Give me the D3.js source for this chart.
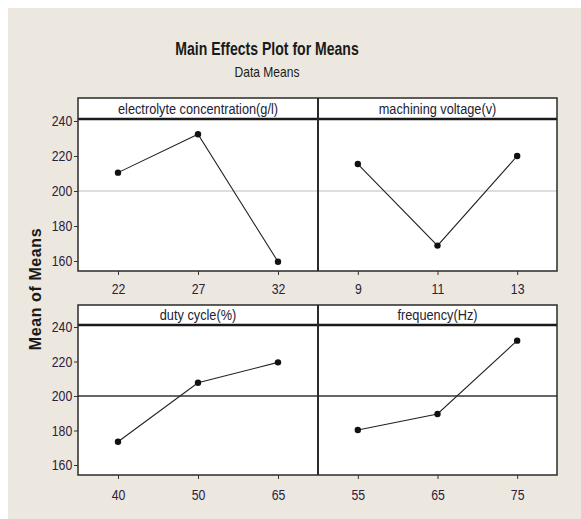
<!DOCTYPE html>
<html>
<head>
<meta charset="utf-8">
<script src="https://cdn.jsdelivr.net/npm/d3@7"></script>
<style>
  body { margin: 0; background: #ffffff; }
  text { font-family: "Liberation Sans", Arial, sans-serif; }
</style>
</head>
<body>
<div id="chart"></div>
<script>
// factor names and level labels
const factors = ["electrolyte concentration(g/l)", "machining voltage(v)", "duty cycle(%)", "frequency(Hz)"];
const levels = [["22", "27", "32"], ["9", "11", "13"], ["40", "50", "65"], ["55", "65", "75"]];
// mean of means at each level
const electrolyteMeans = [210.5, 232.4, 159.6];
const voltageMeans = [215.4, 168.8, 220.0];
const dutyMeans = [173.5, 207.7, 219.5];
const frequencyMeans = [180.3, 189.6, 232.1];
const seriesMeans = [electrolyteMeans, voltageMeans, dutyMeans, frequencyMeans];
const yTicks = [160, 180, 200, 220, 240];
const grandMean = 200;

const W = 581, H = 519;

const svg = d3.select("#chart").append("svg")
    .attr("width", W)
    .attr("height", H);

// narrow text: squeeze horizontally like the original condensed font
function narrowText(parent, x, y, str, size, sx, bold) {
    return parent.append("text")
        .attr("transform", `translate(${x},${y}) scale(${sx},1)`)
        .attr("text-anchor", "middle")
        .attr("font-size", size)
        .attr("font-weight", bold ? "bold" : "normal")
        .attr("fill", "#1a1a1a")
        .text(str);
}

// beige figure background
svg.append("rect")
    .attr("x", 8).attr("y", 8)
    .attr("width", W - 8).attr("height", H - 8)
    .attr("fill", "#ece8df");

// titles
narrowText(svg, 267, 55, "Main Effects Plot for Means", 19, 0.74, true);
narrowText(svg, 267, 77, "Data Means", 14, 0.86, false);

svg.append("text")
    .attr("transform", "translate(41, 289) rotate(-90)")
    .attr("text-anchor", "middle")
    .attr("font-size", 16).attr("font-weight", "bold")
    .attr("letter-spacing", 0.6)
    .attr("fill", "#1a1a1a")
    .text("Mean of Means");

// layout of the 2x2 grid
const left = 78, mid = 318, right = 557;
const rows = [
    { top: 98, stripH: 21, bottom: 271, refColor: "#bdbdbd", refWidth: 1.2, pad: 8 },
    { top: 305, stripH: 20, bottom: 475, refColor: "#333333", refWidth: 1.6, pad: 10 }
];

factors.forEach((name, i) => {
    let row = rows[Math.floor(i / 2)];
    let x0 = i % 2 === 0 ? left : mid;
    let x1 = i % 2 === 0 ? mid : right;
    let plotTop = row.top + row.stripH;

    let g = svg.append("g");

    // x as categorical levels
    let x = d3.scalePoint()
        .domain(levels[i])
        .range([x0, x1])
        .padding(0.5);

    // y so that 240 sits just under the strip and 160 10px above bottom
    let y = d3.scaleLinear()
        .domain([160, 240])
        .range([row.bottom - 10, plotTop + 2]);

    // panel background
    g.append("rect")
        .attr("x", x0).attr("y", row.top)
        .attr("width", x1 - x0).attr("height", row.bottom - row.top)
        .attr("fill", "#ffffff");

    // reference line at grand mean
    g.append("line")
        .attr("x1", x0).attr("x2", x1)
        .attr("y1", y(grandMean)).attr("y2", y(grandMean))
        .attr("stroke", row.refColor)
        .attr("stroke-width", row.refWidth);

    // strip label
    narrowText(g, (x0 + x1) / 2, row.top + row.stripH - 5, name, 15, 0.85, false)
        .attr("fill", "#222233");

    // strip bottom line
    g.append("line")
        .attr("x1", x0).attr("x2", x1)
        .attr("y1", plotTop).attr("y2", plotTop)
        .attr("stroke", "#1a1a1a")
        .attr("stroke-width", 2.5);

    // connecting line and points
    let pts = levels[i].map((lv, k) => ({ lv: lv, v: seriesMeans[i][k] }));

    g.append("path")
        .datum(pts)
        .attr("fill", "none")
        .attr("stroke", "#222")
        .attr("stroke-width", 1.1)
        .attr("d", d3.line().x(d => x(d.lv)).y(d => y(d.v)));

    g.selectAll("circle")
        .data(pts)
        .enter().append("circle")
        .attr("cx", d => x(d.lv))
        .attr("cy", d => y(d.v))
        .attr("r", 3.2)
        .attr("fill", "#111");

    // x axis
    let xAxis = d3.axisBottom(x).tickSize(4).tickPadding(row.pad);
    let xg = g.append("g")
        .attr("transform", `translate(0,${row.bottom})`)
        .call(xAxis);
    xg.select(".domain").remove();
    xg.selectAll("line").attr("stroke", "#333");
    xg.selectAll("text")
        .attr("font-size", 15)
        .attr("fill", "#2a2040")
        .attr("transform", "scale(0.82,1)")
        .style("font-family", "'Liberation Sans', Arial, sans-serif");

    // y axis on left panels only
    if (i % 2 === 0) {
        let yAxis = d3.axisLeft(y).tickValues(yTicks).tickSize(4).tickPadding(3);
        let yg = g.append("g")
            .attr("transform", `translate(${x0},0)`)
            .call(yAxis);
        yg.select(".domain").remove();
        yg.selectAll("line").attr("stroke", "#333");
        yg.selectAll("text")
            .attr("font-size", 15)
            .attr("fill", "#2a2040")
            .attr("transform", "scale(0.82,1)")
            .style("font-family", "'Liberation Sans', Arial, sans-serif");
    }
});

// panel frames and divider on top
rows.forEach(row => {
    svg.append("rect")
        .attr("x", left).attr("y", row.top)
        .attr("width", right - left).attr("height", row.bottom - row.top)
        .attr("fill", "none")
        .attr("stroke", "#2a2a2a")
        .attr("stroke-width", 1.5);

    svg.append("line")
        .attr("x1", mid).attr("x2", mid)
        .attr("y1", row.top).attr("y2", row.bottom)
        .attr("stroke", "#2a2a2a")
        .attr("stroke-width", 2);
});
</script>
</body>
</html>
